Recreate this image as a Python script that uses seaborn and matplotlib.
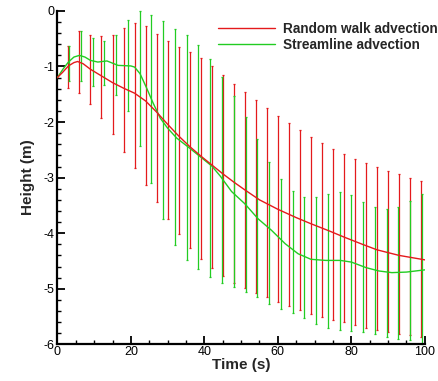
import numpy as np
import pandas as pd
import seaborn as sns
import matplotlib
matplotlib.use('Agg')
import matplotlib.pyplot as plt
from matplotlib.ticker import MultipleLocator

sns.set_theme(style='ticks')
plt.rcParams['font.family'] = ['Liberation Sans', 'DejaVu Sans']
plt.rcParams['axes.unicode_minus'] = False

# error bar samples
red_t = [3, 6, 9, 12, 15, 18, 21, 24, 27, 30, 33, 36, 39, 42, 45, 48, 51, 54, 57, 60,
         63, 66, 69, 72, 75, 78, 81, 84, 87, 90, 93, 96, 99]
red_top = [-0.63, -0.36, -0.43, -0.46, -0.43, -0.30, -0.22, -0.28, -0.41, -0.55, -0.65,
           -0.74, -0.85, -0.99, -1.15, -1.31, -1.46, -1.60, -1.75, -1.89, -2.02, -2.14,
           -2.26, -2.37, -2.48, -2.57, -2.66, -2.73, -2.81, -2.88, -2.94, -3.01, -3.06]
red_bot = [-1.39, -1.47, -1.68, -1.92, -2.22, -2.53, -2.83, -3.14, -3.44, -3.75, -4.02,
           -4.27, -4.47, -4.63, -4.77, -4.89, -4.98, -5.08, -5.15, -5.24, -5.31, -5.38,
           -5.45, -5.50, -5.56, -5.60, -5.65, -5.70, -5.74, -5.77, -5.81, -5.84, -5.86]

green_t = [3.2, 6.4, 9.6, 12.8, 16.0, 19.2, 22.4, 25.6, 28.8, 32.0, 35.2, 38.4, 41.6,
           44.8, 48.0, 51.2, 54.4, 57.6, 60.8, 64.0, 67.2, 70.4, 73.6, 76.8, 80.0, 83.2,
           86.4, 89.6, 92.8, 96.0, 99.2]
green_top = [-0.63, -0.37, -0.48, -0.55, -0.44, -0.17, 0.00, -0.07, -0.19, -0.32, -0.44,
             -0.61, -0.87, -1.19, -1.53, -1.90, -2.31, -2.72, -3.02, -3.24, -3.35, -3.35,
             -3.29, -3.26, -3.31, -3.43, -3.53, -3.56, -3.52, -3.42, -3.30]
green_bot = [-1.27, -1.26, -1.35, -1.33, -1.52, -1.80, -2.43, -3.09, -3.74, -4.22, -4.49,
             -4.65, -4.78, -4.89, -4.97, -5.05, -5.15, -5.27, -5.36, -5.43, -5.52, -5.63,
             -5.71, -5.75, -5.76, -5.78, -5.82, -5.86, -5.90, -5.92, -6.00]

# mean curves
red_curve_t = [0, 1.5, 3, 4.5, 5.5, 7, 9, 12, 15, 18, 21, 24, 27, 30, 33, 36, 39, 42, 45,
               48, 51, 55, 60, 65, 69, 74, 78, 83, 87, 93, 100]
red_curve_y = [-1.20, -1.10, -0.99, -0.93, -0.91, -0.95, -1.05, -1.17, -1.29, -1.39, -1.48,
               -1.62, -1.82, -2.04, -2.25, -2.44, -2.61, -2.77, -2.93, -3.08, -3.22, -3.40,
               -3.57, -3.72, -3.83, -3.96, -4.07, -4.20, -4.30, -4.40, -4.48]
green_curve_t = [0, 1.5, 3, 4.5, 6, 7.5, 9, 11, 13.5, 15, 16.5, 20, 21, 22.5, 24.3, 26, 28,
                 30, 32.5, 36, 39, 42, 44.3, 47.4, 51, 54.6, 58.3, 62, 65.5, 69, 73, 77,
                 80, 84, 87.5, 91, 95, 100]
green_curve_y = [-1.20, -1.05, -0.92, -0.83, -0.80, -0.83, -0.89, -0.92, -0.90, -0.94,
                 -0.98, -0.99, -1.01, -1.13, -1.39, -1.65, -1.93, -2.11, -2.29, -2.47,
                 -2.63, -2.79, -2.97, -3.25, -3.47, -3.74, -3.95, -4.19, -4.37, -4.47,
                 -4.49, -4.49, -4.52, -4.62, -4.68, -4.71, -4.70, -4.66]

RED = '#e41a1c'
GREEN = '#22cc22'

fig = plt.figure(figsize=(4.38, 3.81), dpi=100)
ax = fig.add_axes([0.131, 0.0963, 0.839, 0.875])

for t, top, bot, c in [(red_t, red_top, red_bot, RED), (green_t, green_top, green_bot, GREEN)]:
    t = np.array(t)
    top = np.array(top)
    bot = np.array(bot)
    mid = (top + bot) / 2
    ax.errorbar(t, mid, yerr=[mid - bot, top - mid], fmt='none', ecolor=c,
                elinewidth=0.9, capsize=1.0, capthick=0.9, clip_on=False, zorder=2)

curves = pd.concat([
    pd.DataFrame({'t': green_curve_t, 'h': green_curve_y, 'name': 'Streamline advection'}),
    pd.DataFrame({'t': red_curve_t, 'h': red_curve_y, 'name': 'Random walk advection'}),
])
sns.lineplot(data=curves, x='t', y='h', hue='name',
             palette={'Random walk advection': RED, 'Streamline advection': GREEN},
             linewidth=1.0, ax=ax, zorder=3, legend=False)

ax.set_xlim(0, 100)
ax.set_ylim(-6, 0)
ax.xaxis.set_major_locator(MultipleLocator(20))
ax.xaxis.set_minor_locator(MultipleLocator(5))
ax.yaxis.set_major_locator(MultipleLocator(1))
ax.yaxis.set_minor_locator(MultipleLocator(0.2))
ax.tick_params(which='major', direction='in', length=5.5, width=1.3, labelsize=9,
               color='black', labelcolor='black', pad=2)
ax.tick_params(which='minor', direction='in', length=3, width=1.0, color='black')
ax.tick_params(axis='x', pad=1.5)
sns.despine(ax=ax)
for s in ['left', 'bottom']:
    ax.spines[s].set_linewidth(1.6)
    ax.spines[s].set_color('black')

ax.set_xlabel('Time (s)', fontsize=11, fontweight='bold', labelpad=0)
ax.set_ylabel('Height (m)', fontsize=11, fontweight='bold', labelpad=6)

h_red, = ax.plot([], [], color=RED, lw=1.0)
h_green, = ax.plot([], [], color=GREEN, lw=1.0)
fig.legend([h_red, h_green], ['Random walk advection', 'Streamline advection'],
           loc='upper left', bbox_to_anchor=(0.498, 0.942), frameon=False,
           prop={'weight': 'bold', 'size': 9.8}, borderpad=0, borderaxespad=0,
           handlelength=4.2, handletextpad=0.6, labelspacing=0.15)

fig.savefig('out.png', dpi=100)
